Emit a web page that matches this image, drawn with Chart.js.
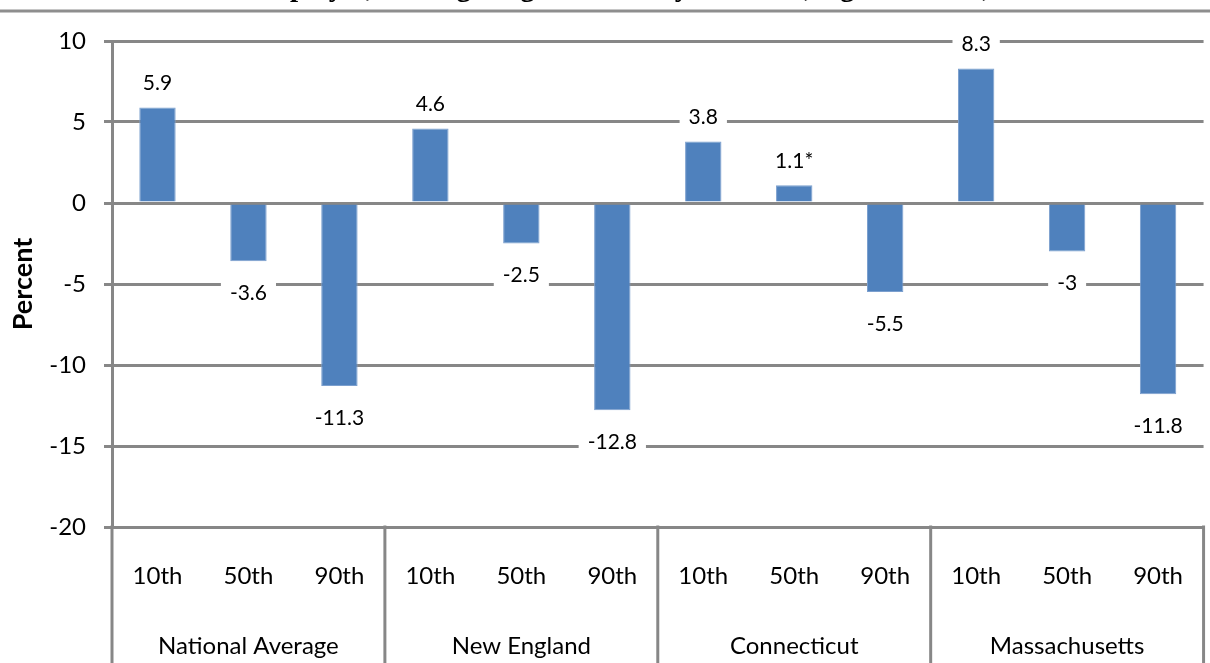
<!DOCTYPE html>
<html>
<head>
<meta charset="utf-8">
<script src="https://cdn.jsdelivr.net/npm/chart.js@4.4.1/dist/chart.umd.min.js"></script>
<style>
  html, body { margin: 0; padding: 0; background: #ffffff; }
  #wrap { width: 1210px; height: 663px; position: relative; }
</style>
</head>
<body>
<div id="wrap"><canvas id="grafico" width="1210" height="663"></canvas></div>
<script>
// dados do grafico
const percentis = ['10th', '50th', '90th', '10th', '50th', '90th', '10th', '50th', '90th', '10th', '50th', '90th'];
const regioes = ['National Average', 'New England', 'Connecticut', 'Massachusetts'];
const valores = [5.9, -3.6, -11.3, 4.6, -2.5, -12.8, 3.8, 1.1, -5.5, 8.3, -3, -11.8];
const notas = ['', '', '', '', '', '', '', '*', '', '', '', ''];
const ticksY = [-20, -15, -10, -5, 0, 5, 10];
const tituloCortado = 'Employer, Among Wage and Salary Workers, Ages 18 to 64, 2000 to 2010';

const CINZA = '#878787';
const AZUL = '#4f81bd';
const FONTE = 'Lato, Calibri, sans-serif';

// rotulos dos valores com fundo branco (como no Excel)
const rotulosPlugin = {
    id: 'rotulos',
    afterDatasetsDraw(chart) {
        const ctx = chart.ctx;
        const meta = chart.getDatasetMeta(0);
        ctx.save();
        ctx.font = '21px ' + FONTE;
        ctx.textAlign = 'center';
        ctx.textBaseline = 'middle';
        meta.data.forEach((bar, i) => {
            const texto = String(valores[i]) + notas[i];
            const w = ctx.measureText(texto).width;
            const cy = valores[i] >= 0 ? bar.y - 25 : bar.y + 31;
            ctx.fillStyle = '#ffffff';
            ctx.fillRect(bar.x - w / 2 - 9, cy - 12, w + 18, 24);
            ctx.fillStyle = '#000000';
            ctx.fillText(texto, bar.x, cy + 1);
        });
        ctx.restore();
    }
};

// separadores das regioes no eixo de categorias + borda e titulo cortado no topo
const molduraPlugin = {
    id: 'moldura',
    afterDraw(chart) {
        const ctx = chart.ctx;
        const area = chart.chartArea;
        const x = chart.scales.x;
        ctx.save();
        ctx.strokeStyle = CINZA;
        ctx.lineWidth = 3;
        for (let i = 0; i <= percentis.length; i += 3) {
            let px;
            if (i === 0) px = area.left;
            else if (i === percentis.length) px = area.right;
            else px = (x.getPixelForValue(i - 1) + x.getPixelForValue(i)) / 2;
            ctx.beginPath();
            ctx.moveTo(px, area.bottom - 1.5);
            ctx.lineTo(px, chart.height);
            ctx.stroke();
        }
        // linha do topo
        ctx.strokeStyle = '#8e8e8e';
        ctx.beginPath();
        ctx.moveTo(0, 11);
        ctx.lineTo(chart.width, 11);
        ctx.stroke();
        // titulo (so as descendentes aparecem)
        ctx.fillStyle = '#000000';
        ctx.font = 'bold 29px "Liberation Serif", serif';
        ctx.textAlign = 'left';
        ctx.textBaseline = 'alphabetic';
        const x0 = 290 - ctx.measureText('Em').width;
        ctx.fillText(tituloCortado, x0, -4);
        ctx.restore();
    }
};

new Chart(document.getElementById('grafico'), {
    type: 'bar',
    data: {
        labels: percentis,
        datasets: [{
            data: valores,
            backgroundColor: AZUL,
            borderColor: '#7b9fce',
            borderWidth: 1,
            categoryPercentage: 1,
            barPercentage: 0.4
        }]
    },
    options: {
        responsive: false,
        animation: false,
        layout: { padding: { top: 41, right: 0, bottom: 0, left: 0 } },
        plugins: {
            legend: { display: false },
            tooltip: { enabled: false }
        },
        scales: {
            x: {
                type: 'category',
                labels: percentis,
                grid: { display: false },
                border: { display: false },
                ticks: {
                    color: '#000000',
                    font: { family: FONTE, size: 24 },
                    padding: 27,
                    maxRotation: 0,
                    autoSkip: false
                },
                afterFit(scale) { scale.height = 80; }
            },
            x2: {
                type: 'category',
                labels: regioes,
                position: 'bottom',
                grid: { display: false },
                border: { display: false },
                ticks: {
                    color: '#000000',
                    font: { family: FONTE, size: 24 },
                    padding: 17,
                    maxRotation: 0,
                    autoSkip: false
                },
                afterFit(scale) { scale.height = 56; }
            },
            y: {
                min: ticksY[0],
                max: ticksY[ticksY.length - 1],
                afterBuildTicks(scale) { scale.ticks = ticksY.map(v => ({ value: v })); },
                grid: { color: CINZA, lineWidth: 3, tickLength: 8 },
                border: { display: true, color: CINZA, width: 3 },
                ticks: {
                    color: '#000000',
                    font: { family: FONTE, size: 24 },
                    padding: 18
                },
                title: {
                    display: true,
                    text: 'Percent',
                    color: '#000000',
                    font: { family: FONTE, size: 27, weight: 'bold' },
                    padding: 7
                },
                afterFit(scale) { scale.width = 112; }
            }
        }
    },
    plugins: [rotulosPlugin, molduraPlugin]
});
</script>
</body>
</html>
